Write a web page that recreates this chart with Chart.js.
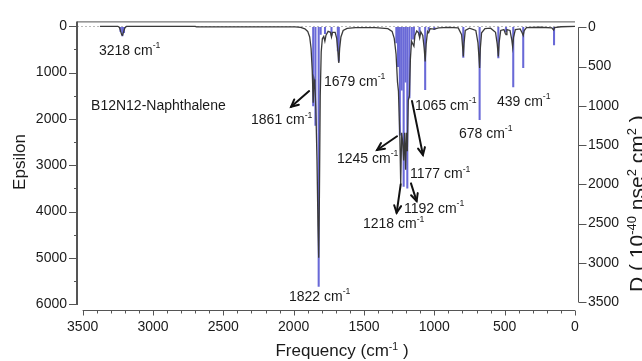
<!DOCTYPE html>
<html><head><meta charset="utf-8">
<script src="https://cdn.jsdelivr.net/npm/chart.js@4.4.0/dist/chart.umd.min.js"></script>
<style>html,body{margin:0;padding:0;background:#fff}#wrap{width:642px;height:361px;position:relative}</style>
</head><body><div id="wrap"><canvas id="c" width="642" height="361"></canvas></div>
<script>
// ---- data ----
const stickFreq = [3230,3218,3206,1861,1845,1822,1808,1777,1731,1686,1679,1270,1258,1245,1232,1218,1205,1192,1177,1160,1145,1105,1065,1040,1000,794,678,545,490,439,368,149];
const stickD    = [55,110,70,1000,1250,3300,90,80,100,300,430,200,500,1375,800,2025,700,2050,900,150,150,100,795,40,30,385,1175,390,60,760,515,225];

const curveFreq = [3377,3250,3238,3230,3222,3216,3209,3200,3188,2700,2690,1990,1950,1920,1900,1886,1876,1868,1861,1855,1849,1842,1834,1827,1822,1817,1811,1804,1796,1786,1778,1770,1755,1738,1731,1724,1705,1694,1686,1679,1673,1664,1648,1620,1560,1420,1330,1300,1285,1272,1262,1255,1245,1239,1232,1225,1218,1211,1204,1198,1192,1185,1177,1170,1162,1153,1145,1138,1125,1112,1104,1096,1082,1072,1065,1058,1048,1040,1030,1000,970,900,830,806,798,794,789,780,750,705,690,683,678,673,664,640,600,565,553,545,539,528,505,496,490,484,462,450,443,437,424,390,376,368,361,345,250,165,152,145,100,0];
const curveEps  = [0,0,25,110,185,195,120,35,0,0,12,12,25,55,110,230,480,950,1650,1150,1250,1800,2900,4300,5000,3700,1500,550,270,220,320,190,110,130,230,130,130,260,520,790,480,230,90,45,30,30,50,110,260,600,1200,1400,2400,3400,2300,2500,2900,2300,3100,2300,2700,1600,1500,700,320,380,430,200,100,140,250,120,200,480,760,380,110,140,50,60,35,25,35,180,480,650,380,90,40,90,350,650,900,480,140,50,40,130,380,650,340,90,70,150,180,70,90,280,450,240,70,55,140,200,90,30,20,35,80,30,10,0];

const xTickValues   = [3500,3000,2500,2000,1500,1000,500,0];
const epsTickValues = [0,1000,2000,3000,4000,5000,6000];
const dTickValues   = [0,500,1000,1500,2000,2500,3000,3500];

const peakLabels = ['3218','1861','1679','1245','1177','1065','678','439','1192','1218','1822'];
const moleculeName = 'B12N12-Naphthalene';

// ---- annotation layout (data coordinates: frequency, epsilon) ----
const labelPos = [[3384,530],[2303,2035],[1784,1208],[1692,2862],[1173,3201],[1137,1717],[825,2332],[555,1632],[1216,3943],[1507,4282],[2033,5851]];
const namePos = [3440,1717];
const arrows = [
  [[1890,1399],[2018,1738]],
  [[1265,2374],[1407,2671]],
  [[1159,1611],[1081,2777]],
  [[1239,3413],[1268,4028]],
  [[1166,3392],[1126,3774]]
];

const FONT = "'Liberation Sans', Arial, sans-serif";
const TXT = '#1a1a1a';
const AX = '#555';

function drawRich(ctx, segs, x, y, size, align) {
  let total = 0;
  segs.forEach(s => { ctx.font = (s[1] ? size*0.62 : size) + 'px ' + FONT; total += ctx.measureText(s[0]).width; });
  let cx = align === 'center' ? x - total/2 : x;
  segs.forEach(s => {
    const fs = s[1] ? size*0.62 : size;
    ctx.font = fs + 'px ' + FONT;
    ctx.fillText(s[0], cx, s[1] ? y - size*0.38 : y);
    cx += ctx.measureText(s[0]).width;
  });
}

const decor = {
  id: 'decor',
  beforeDatasetsDraw(chart) {
    const {ctx, chartArea: a, scales} = chart;
    ctx.save();
    ctx.strokeStyle = '#bbb'; ctx.lineWidth = 1; ctx.setLineDash([2,2]);
    const y0 = Math.round(scales.y.getPixelForValue(0)) + 0.5;
    ctx.beginPath(); ctx.moveTo(a.left, y0); ctx.lineTo(a.right, y0); ctx.stroke();
    ctx.restore();
  },
  afterDraw(chart) {
    const {ctx, chartArea: a, scales} = chart;
    const xs = scales.x, ys = scales.y, y1 = scales.y1;
    ctx.save();
    ctx.strokeStyle = AX;
    ctx.lineWidth = 1;
    ctx.beginPath(); ctx.moveTo(a.left, a.top + 0.5); ctx.lineTo(a.right, a.top + 0.5); ctx.stroke();
    ctx.lineWidth = 2;
    const yb = ys.getPixelForValue(6000) + 1;
    ctx.beginPath(); ctx.moveTo(a.left, a.top); ctx.lineTo(a.left, yb); ctx.stroke();
    ctx.lineWidth = 1;
    for (let v = 0; v <= 6000; v += 500) {
      const y = Math.round(ys.getPixelForValue(v)) + 0.5;
      const len = v % 1000 === 0 ? 8 : 3;
      ctx.beginPath(); ctx.moveTo(a.left - len, y); ctx.lineTo(a.left, y); ctx.stroke();
    }
    const rx = a.right + 3.5;
    ctx.beginPath(); ctx.moveTo(rx, y1.getPixelForValue(0)); ctx.lineTo(rx, y1.getPixelForValue(3500)); ctx.stroke();
    dTickValues.forEach(v => {
      const y = Math.round(y1.getPixelForValue(v)) + 0.5;
      ctx.beginPath(); ctx.moveTo(rx, y); ctx.lineTo(rx + 8, y); ctx.stroke();
    });
    const by = a.bottom + 0.5;
    ctx.beginPath(); ctx.moveTo(xs.getPixelForValue(3500), by); ctx.lineTo(xs.getPixelForValue(0), by); ctx.stroke();
    for (let v = 0; v <= 3500; v += 100) {
      const x = Math.round(xs.getPixelForValue(v)) + 0.5;
      const len = v % 500 === 0 ? 5 : 3;
      ctx.beginPath(); ctx.moveTo(x, by); ctx.lineTo(x, by + len); ctx.stroke();
    }
    ctx.fillStyle = TXT; ctx.textBaseline = 'alphabetic'; ctx.textAlign = 'left';
    drawRich(ctx, [['Frequency (cm',0],['-1',1],[' )',0]], 342, 356, 17, 'center');
    ctx.save(); ctx.translate(25, 162); ctx.rotate(-Math.PI/2);
    drawRich(ctx, [['Epsilon',0]], 0, 0, 17, 'center'); ctx.restore();
    ctx.save(); ctx.translate(644, 292); ctx.rotate(-Math.PI/2);
    drawRich(ctx, [['D ( 10',0],['-40',1],[' nse',0],['2',1],[' cm',0],['2',1],[' )',0]], 0, 0, 21, 'left'); ctx.restore();
    ctx.textBaseline = 'middle';
    drawRich(ctx, [[moleculeName,0]], xs.getPixelForValue(namePos[0]), ys.getPixelForValue(namePos[1]), 14, 'left');
    peakLabels.forEach((t, i) => {
      drawRich(ctx, [[t + ' cm',0],['-1',1]], xs.getPixelForValue(labelPos[i][0]), ys.getPixelForValue(labelPos[i][1]), 14, 'left');
    });
    ctx.strokeStyle = '#111'; ctx.lineWidth = 2; ctx.lineCap = 'round';
    arrows.forEach(ar => {
      const x0 = xs.getPixelForValue(ar[0][0]), y0 = ys.getPixelForValue(ar[0][1]);
      const x1 = xs.getPixelForValue(ar[1][0]), y1p = ys.getPixelForValue(ar[1][1]);
      const ang = Math.atan2(y1p - y0, x1 - x0);
      ctx.beginPath(); ctx.moveTo(x0, y0); ctx.lineTo(x1, y1p); ctx.stroke();
      ctx.beginPath();
      ctx.moveTo(x1 - 8*Math.cos(ang - 0.45), y1p - 8*Math.sin(ang - 0.45));
      ctx.lineTo(x1, y1p);
      ctx.lineTo(x1 - 8*Math.cos(ang + 0.45), y1p - 8*Math.sin(ang + 0.45));
      ctx.stroke();
    });
    ctx.restore();
  }
};

const tickFont = {family: FONT, size: 14};
const plain = v => String(v);
new Chart(document.getElementById('c'), {
  type: 'line',
  data: {
    datasets: [
      {
        type: 'line', label: 'Epsilon',
        data: curveFreq.map((f, i) => ({x: f, y: curveEps[i]})),
        xAxisID: 'x', yAxisID: 'y',
        borderColor: '#3a3a3a', borderWidth: 1.3, pointRadius: 0, tension: 0, fill: false, order: 1
      },
      {
        type: 'bar', label: 'D',
        data: stickFreq.map((f, i) => ({x: f, y: stickD[i]})),
        xAxisID: 'x', yAxisID: 'y1',
        backgroundColor: 'rgb(105,105,215)', borderWidth: 0, barThickness: 1.4, order: 2
      }
    ]
  },
  options: {
    responsive: false, animation: false, devicePixelRatio: 1,
    layout: {padding: {top: 16, left: 0, right: 0, bottom: 0}},
    plugins: {legend: {display: false}, tooltip: {enabled: false}},
    scales: {
      x: {
        type: 'linear', reverse: true, min: 0, max: 3540, offset: false,
        afterBuildTicks: s => { s.ticks = xTickValues.map(v => ({value: v})); },
        ticks: {font: tickFont, color: TXT, padding: 9, maxRotation: 0, autoSkip: false, callback: plain},
        grid: {display: false, drawTicks: false}, border: {display: false},
        afterFit: s => { s.height = 51; }
      },
      y: {
        type: 'linear', position: 'left', reverse: true, min: -106, max: 6127,
        afterBuildTicks: s => { s.ticks = epsTickValues.map(v => ({value: v})); },
        ticks: {font: tickFont, color: TXT, padding: 10, callback: plain},
        grid: {display: false, drawTicks: false}, border: {display: false},
        afterFit: s => { s.width = 77; }
      },
      y1: {
        type: 'linear', position: 'right', reverse: true, min: -75, max: 3600,
        afterBuildTicks: s => { s.ticks = dTickValues.map(v => ({value: v})); },
        ticks: {font: tickFont, color: TXT, padding: 13, callback: plain},
        grid: {display: false, drawTicks: false}, border: {display: false},
        afterFit: s => { s.width = 67; }
      }
    }
  },
  plugins: [decor]
});
</script>
</body></html>
